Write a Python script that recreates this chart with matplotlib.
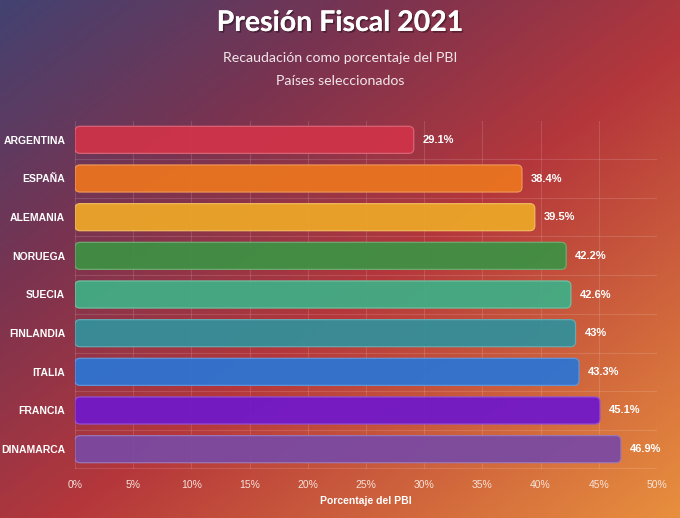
import numpy as np
import matplotlib
matplotlib.use("Agg")
import matplotlib.pyplot as plt
from matplotlib.patches import FancyBboxPatch
from matplotlib.colors import LinearSegmentedColormap, to_rgb
import matplotlib.patheffects as pe

paises = ["ARGENTINA", "ESPAÑA", "ALEMANIA", "NORUEGA", "SUECIA",
          "FINLANDIA", "ITALIA", "FRANCIA", "DINAMARCA"]
presion = [29.1, 38.4, 39.5, 42.2, 42.6, 43.0, 43.3, 45.1, 46.9]
colores = ["#cf3349", "#ea7420", "#eca628", "#3f9044", "#41ad85",
           "#348f9a", "#2e74d2", "#7119c9", "#7b4aa1"]
ticks = list(range(0, 55, 5))

W, H = 680, 518
fig = plt.figure(figsize=(W / 100, H / 100), dpi=100)

# fondo con degradado diagonal
bg = fig.add_axes([0, 0, 1, 1], zorder=-10)
xx, yy = np.meshgrid(np.linspace(0, 1, 340), np.linspace(0, 1, 260))
t = (xx + yy) / 2
cmap = LinearSegmentedColormap.from_list(
    "fondo", [(0, "#434271"), (0.28, "#7a3350"), (0.55, "#b5373b"), (1, "#e88f3e")])
bg.imshow(t, cmap=cmap, aspect="auto", extent=[0, 1, 1, 0])
bg.set_axis_off()

ax = fig.add_axes([75 / W, 1 - 468.5 / H, 582 / W, 348 / H])
ax.patch.set_alpha(0)

y = np.arange(len(paises))
bars = ax.barh(y, presion, height=0.7, color="none")
ax.set_xlim(0, 50)
ax.set_ylim(len(paises) - 0.5, -0.5)

# barras redondeadas
px_x = 582 / 50
px_y = 348 / len(paises)
r = 5 / px_x
for b, c in zip(bars, colores):
    b.set_visible(False)
    borde = tuple(min(1, v * 0.75 + 0.25) for v in to_rgb(c))
    p = FancyBboxPatch((b.get_x(), b.get_y()), b.get_width(), b.get_height(),
                       boxstyle=f"round,pad=0,rounding_size={r}",
                       mutation_aspect=px_x / px_y,
                       facecolor=c, edgecolor=borde, lw=0.9, zorder=3, alpha=0.95)
    ax.add_patch(p)

for yi, v in zip(y, presion):
    ax.annotate(f"{v:g}%", (v, yi), xytext=(6.5, 0), textcoords="offset points",
                va="center", ha="left", color="white", fontsize=8,
                fontweight="bold", family="Liberation Sans")

# grilla
for xv in ticks:
    ax.axvline(xv, color="white", alpha=0.13, lw=0.8, zorder=1)
for yv in np.arange(-0.5, len(paises), 1):
    ax.axhline(yv, color="white", alpha=0.13, lw=0.8, zorder=1)

ax.set_xticks(ticks)
ax.set_xticklabels([f"{v}%" for v in ticks], color="#f6e2da",
                   fontsize=7.5, family="Liberation Sans")
ax.set_yticks(y)
ax.set_yticklabels(paises, color="white", fontsize=7.5, fontweight="bold",
                   family="Liberation Sans")
ax.tick_params(axis="x", length=0, pad=8.5)
ax.tick_params(axis="y", length=0, pad=7)
for s in ax.spines.values():
    s.set_visible(False)

ax.set_xlabel("Porcentaje del PBI", color="white", fontsize=7.5,
              fontweight="bold", family="Liberation Sans", labelpad=4)

sombra = [pe.withSimplePatchShadow(offset=(1.2, -1.2), shadow_rgbFace="black", alpha=0.35),
          pe.Normal()]
fig.text(0.5, 1 - 23 / H, "Presión Fiscal 2021", ha="center", va="center",
         color="white", fontsize=20.5, fontweight="bold", family="Lato",
         path_effects=sombra)
fig.text(0.5, 1 - 58 / H, "Recaudación como porcentaje del PBI", ha="center",
         va="center", color="#f2e6ea", fontsize=10.2, family="Lato")
fig.text(0.5, 1 - 81 / H, "Países seleccionados", ha="center", va="center",
         color="#f2e6ea", fontsize=10.2, family="Lato")

fig.savefig("out.png", dpi=100)
